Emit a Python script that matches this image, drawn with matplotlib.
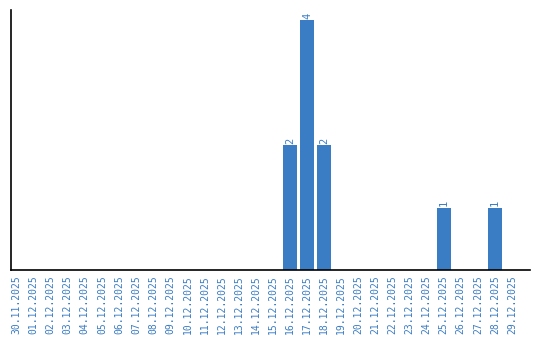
import matplotlib
matplotlib.use("Agg")
import matplotlib.pyplot as plt

dates = ["30.11.2025"] + [f"{d:02d}.12.2025" for d in range(1, 30)]
counts = {"16.12.2025": 2, "17.12.2025": 4, "18.12.2025": 2, "25.12.2025": 1, "28.12.2025": 1}
values = [counts.get(d, 0) for d in dates]

BLUE = "#3b7dc4"
fig = plt.figure(figsize=(5.4, 3.4), dpi=100)
ax = fig.add_axes([11/540, 1-270/340, 519/540, 260/340])
x = list(range(len(dates)))
ax.bar(x, values, width=0.82, color=BLUE)
for xi, v in zip(x, values):
    if v > 0:
        ax.text(xi, v + 0.02, str(v), rotation=90, ha="center", va="bottom",
                color=BLUE, fontsize=7.5, family="DejaVu Sans Mono")
ax.set_xlim(-0.32, 30.05)
ax.set_ylim(0, 4.16)
ax.set_xticks(x)
ax.set_xticklabels(dates, rotation=90, color=BLUE, fontsize=7, family="DejaVu Sans Mono")
ax.tick_params(axis="x", length=0, pad=4)
ax.set_yticks([])
for s in ["top", "right"]:
    ax.spines[s].set_visible(False)
for s in ["left", "bottom"]:
    ax.spines[s].set_linewidth(1.2)
fig.savefig("out.png", dpi=100)
